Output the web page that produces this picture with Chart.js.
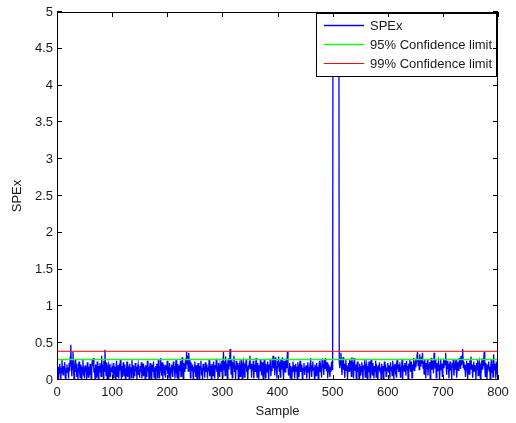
<!DOCTYPE html>
<html>
<head>
<meta charset="utf-8">
<title>SPEx</title>
<script src="https://cdn.jsdelivr.net/npm/chart.js@4.4.1/dist/chart.umd.min.js"></script>
<style>
  html, body { margin: 0; padding: 0; background: #fff; }
  canvas { display: block; }
</style>
</head>
<body>
<canvas id="chartSpe" width="516" height="423"></canvas>
<script>
/* ────────────────────────────────────────────────────────────
   DATOS (muestra 1..800)
   ──────────────────────────────────────────────────────────── */
const spex = [
  .12,.02,.18,.09,.22,.14,.01,.16,.27,.11, .07,.19,.13,.24,.03,.01,.15,.21,.10,.17,
  .02,.23,.12,.31,.48,.20,.05,.26,.38,.14, .01,.18,.28,.11,.22,.04,.16,.01,.19,.25,
  .12,.03,.21,.15,.01,.17,.29,.10,.13,.02,
  .20,.11,.16,.01,.24,.13,.04,.18,.07,.22, .15,.01,.12,.27,.19,.30,.10,.16,.01,.21,
  .13,.03,.25,.14,.02,.19,.11,.23,.17,.05, .33,.15,.21,.02,.26,.12,.41,.18,.06,.24,
  .02,.16,.20,.01,.13,.22,.04,.17,.11,.19,
  .14,.03,.23,.10,.18,.01,.15,.26,.05,.12, .20,.02,.17,.13,.28,.11,.00,.19,.04,.24,
  .15,.06,.21,.01,.16,.12,.25,.04,.18,.14, .01,.22,.11,.17,.03,.27,.13,.20,.02,.15,
  .05,.23,.12,.18,.01,.16,.21,.07,.14,.03,
  .19,.11,.24,.02,.15,.22,.05,.17,.13,.01, .20,.14,.04,.26,.12,.18,.00,.16,.23,.08,
  .02,.21,.15,.11,.25,.04,.17,.01,.19,.13, .22,.03,.16,.27,.12,.02,.18,.30,.14,.06,
  .24,.01,.17,.21,.11,.15,.03,.20,.13,.26,
  .08,.18,.02,.23,.14,.01,.16,.21,.12,.04, .25,.13,.19,.02,.17,.28,.11,.03,.22,.15,
  .01,.20,.12,.26,.05,.16,.31,.14,.02,.23, .18,.11,.27,.15,.38,.22,.33,.12,.37,.19,
  .29,.03,.24,.16,.13,.21,.01,.18,.11,.25,
  .14,.04,.20,.00,.17,.23,.12,.02,.19,.15, .26,.07,.16,.01,.22,.13,.18,.03,.24,.11,
  .15,.21,.02,.17,.12,.27,.05,.19,.14,.01, .22,.16,.06,.25,.13,.02,.20,.15,.29,.11,
  .18,.01,.23,.14,.04,.21,.17,.12,.26,.03,
  .19,.38,.14,.25,.06,.32,.17,.22,.02,.27, .15,.30,.19,.42,.21,.08,.28,.03,.24,.16,
  .33,.11,.20,.01,.26,.14,.18,.23,.01,.17, .21,.05,.15,.28,.12,.02,.19,.24,.13,.04,
  .22,.16,.27,.11,.18,.00,.20,.14,.25,.33,
  .15,.22,.03,.19,.13,.26,.02,.17,.21,.11, .30,.14,.04,.23,.16,.01,.20,.12,.27,.18,
  .06,.24,.15,.01,.19,.28,.13,.03,.22,.16, .11,.25,.17,.00,.21,.14,.29,.05,.18,.12,
  .24,.33,.16,.27,.06,.31,.20,.14,.02,.26,
  .18,.32,.12,.24,.04,.28,.15,.20,.31,.13, .01,.26,.17,.11,.22,.29,.16,.38,.21,.06,
  .14,.23,.03,.19,.13,.01,.17,.25,.11,.20, .02,.16,.22,.12,.18,.00,.24,.14,.04,.19,
  .26,.11,.15,.21,.02,.17,.13,.23,.07,.18,
  .12,.20,.02,.16,.24,.11,.18,.01,.22,.30, .14,.04,.19,.25,.13,.17,.01,.21,.15,.06,
  .23,.12,.18,.00,.16,.26,.11,.20,.14,.03, .29,.17,.22,.07,.27,.15,.30,.19,.12,.24,
  .02,.16,.21,.13,.04,.18,.11,.25,.14,.19,
  7.8,8.5,9.1,8.2,7.4,8.9,9.6,8.0,7.2,8.4, 7.7,.24,.16,.28,.37,.19,.07,.25,.31,.14,
  .22,.03,.18,.27,.13,.20,.01,.17,.23,.12, .29,.15,.26,.05,.31,.18,.24,.02,.30,.16,
  .13,.21,.01,.19,.25,.11,.17,.00,.22,.15,
  .06,.18,.24,.12,.01,.20,.15,.27,.04,.16, .22,.13,.01,.19,.11,.25,.17,.03,.21,.28,
  .14,.07,.23,.16,.02,.19,.12,.26,.04,.18, .15,.00,.20,.13,.24,.11,.17,.02,.22,.14,
  .19,.01,.16,.25,.12,.21,.05,.17,.13,.23,
  .11,.20,.15,.02,.24,.13,.18,.06,.26,.14, .01,.19,.22,.12,.17,.03,.27,.15,.21,.11,
  .16,.24,.04,.18,.13,.29,.01,.20,.15,.12, .23,.17,.06,.26,.14,.19,.01,.22,.16,.28,
  .12,.18,.25,.03,.21,.15,.30,.13,.19,.24,
  .17,.26,.33,.38,.20,.29,.14,.35,.24,.18, .31,.22,.37,.16,.25,.08,.28,.19,.02,.23,
  .15,.27,.06,.20,.17,.24,.01,.21,.30,.14, .19,.26,.09,.37,.22,.16,.28,.03,.23,.18,
  .12,.25,.20,.01,.17,.29,.14,.22,.05,.19,
  .24,.16,.28,.21,.37,.18,.07,.26,.15,.22, .02,.19,.25,.13,.20,.01,.23,.17,.28,.06,
  .16,.21,.14,.27,.03,.18,.24,.13,.19,.30, .22,.15,.33,.20,.28,.42,.17,.25,.14,.21,
  .04,.19,.26,.16,.01,.23,.18,.08,.27,.15,
  .32,.14,.21,.03,.18,.25,.12,.20,.16,.01, .23,.15,.27,.06,.19,.24,.13,.02,.22,.17,
  .29,.14,.20,.26,.38,.18,.05,.23,.16,.01, .21,.15,.25,.12,.18,.00,.20,.28,.14,.17,
  .04,.35,.19,.13,.22,.02,.25,.16,.07,.14
];

const limite95 = 0.28;
const limite99 = 0.39;
const rangoX = [0, 800];
const rangoY = [0, 5];
const etiquetas = ['SPEx', '95% Confidence limit', '99% Confidence limit'];
const colores = ['#0000ff', '#22ee22', '#ff0000'];
const grosores = [1.3, 1.5, 1];

const FUENTE = '"Liberation Sans", Arial, Helvetica, sans-serif';

/* ────────────────────────────────────────────────────────────
   PLUGIN: marco, ticks hacia dentro y leyenda estilo MATLAB
   ──────────────────────────────────────────────────────────── */
const marcoMatlab = {
  id: 'marcoMatlab',
  afterDatasetsDraw(chart) {
    const { ctx, chartArea: a, scales } = chart;
    ctx.save();

    // leyenda (caja blanca arriba a la derecha)
    const lx = 316, ly = 13, lw = 180, lh = 63;
    ctx.fillStyle = '#fff';
    ctx.fillRect(lx, ly, lw, lh);
    ctx.strokeStyle = '#000';
    ctx.lineWidth = 1;
    ctx.strokeRect(lx + 0.5, ly + 0.5, lw, lh);
    ctx.font = '13px ' + FUENTE;
    ctx.textBaseline = 'middle';
    etiquetas.forEach((txt, i) => {
      const y = ly + 12.5 + i * 19;
      ctx.strokeStyle = colores[i];
      ctx.lineWidth = grosores[i];
      ctx.beginPath();
      ctx.moveTo(lx + 8, y);
      ctx.lineTo(lx + 48, y);
      ctx.stroke();
      ctx.fillStyle = '#1a1a1a';
      ctx.fillText(txt, lx + 54, y + 0.5);
    });

    // marco
    ctx.strokeStyle = '#000';
    ctx.lineWidth = 1;
    ctx.strokeRect(Math.round(a.left) + 0.5, Math.round(a.top) + 0.5,
      Math.round(a.right - a.left) - 1, Math.round(a.bottom - a.top) - 1);

    // ticks hacia dentro en los cuatro lados
    const largo = 5;
    ctx.beginPath();
    scales.x.ticks.forEach(t => {
      const px = Math.round(scales.x.getPixelForValue(t.value)) + 0.5;
      ctx.moveTo(px, a.bottom); ctx.lineTo(px, a.bottom - largo);
      ctx.moveTo(px, a.top); ctx.lineTo(px, a.top + largo);
    });
    scales.y.ticks.forEach(t => {
      const py = Math.round(scales.y.getPixelForValue(t.value)) - 0.5;
      ctx.moveTo(a.left, py); ctx.lineTo(a.left + largo, py);
      ctx.moveTo(a.right, py); ctx.lineTo(a.right - largo, py);
    });
    ctx.stroke();
    ctx.restore();
  }
};

/* ────────────────────────────────────────────────────────────
   GRÁFICA
   ──────────────────────────────────────────────────────────── */
const ctxSpe = document.getElementById('chartSpe').getContext('2d');

new Chart(ctxSpe, {
  type: 'line',
  data: {
    datasets: [
      {
        label: etiquetas[0],
        data: spex.map((v, i) => ({ x: i + 1, y: v })),
        borderColor: colores[0],
        borderWidth: grosores[0],
        pointRadius: 0,
        tension: 0,
        order: 2,
      },
      {
        label: etiquetas[1],
        data: [{ x: rangoX[0], y: limite95 }, { x: rangoX[1], y: limite95 }],
        borderColor: colores[1],
        borderWidth: grosores[1],
        pointRadius: 0,
        order: 1,
      },
      {
        label: etiquetas[2],
        data: [{ x: rangoX[0], y: limite99 }, { x: rangoX[1], y: limite99 }],
        borderColor: colores[2],
        borderWidth: grosores[2],
        pointRadius: 0,
        order: 1,
      },
    ],
  },
  options: {
    responsive: false,
    animation: false,
    devicePixelRatio: 1,
    parsing: false,
    normalized: true,
    layout: { padding: { top: 12, right: 18, left: 0, bottom: 0 } },
    plugins: {
      legend: { display: false },
      tooltip: { enabled: false },
    },
    scales: {
      x: {
        type: 'linear',
        min: rangoX[0],
        max: rangoX[1],
        afterFit: s => { s.height = 43; },
        ticks: {
          stepSize: 100,
          color: '#1a1a1a',
          padding: 5,
          maxRotation: 0,
          font: { family: FUENTE, size: 13 },
        },
        grid: { display: false, drawTicks: false },
        border: { display: false },
        title: {
          display: true,
          text: 'Sample',
          color: '#1a1a1a',
          padding: { top: 4, bottom: 4 },
          font: { family: FUENTE, size: 13 },
        },
      },
      y: {
        type: 'linear',
        min: rangoY[0],
        max: rangoY[1],
        afterFit: s => { s.width = 57; },
        ticks: {
          stepSize: 0.5,
          color: '#1a1a1a',
          padding: 4,
          callback: v => String(v),
          font: { family: FUENTE, size: 13 },
        },
        grid: { display: false, drawTicks: false },
        border: { display: false },
        title: {
          display: true,
          text: 'SPEx',
          color: '#1a1a1a',
          padding: { top: 10, bottom: 4 },
          font: { family: FUENTE, size: 13 },
        },
      },
    },
  },
  plugins: [marcoMatlab],
});
</script>
</body>
</html>
